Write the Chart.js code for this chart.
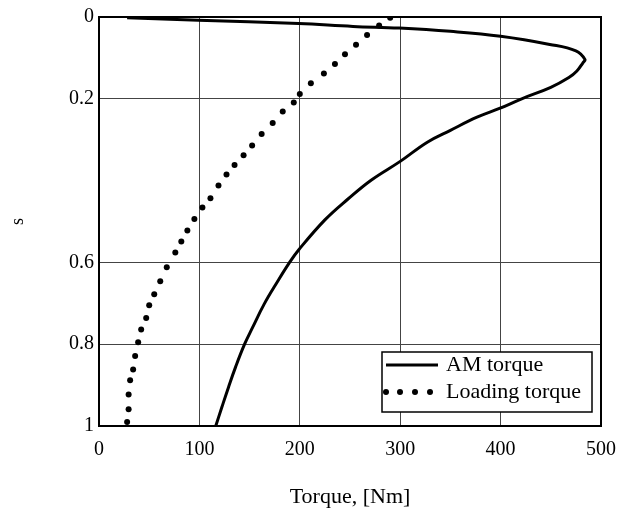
<!DOCTYPE html>
<html>
<head>
<meta charset="utf-8">
<script src="https://cdn.jsdelivr.net/npm/chart.js@4"></script>
<style>
    body { margin: 0; background: #fff; }
    #wrap { width: 628px; height: 510px; }
</style>
</head>
<body>
<div id="wrap"><canvas id="torque-chart" width="628" height="510"></canvas></div>
<script>
// AM torque curve (torque in Nm, slip s)
const amTorque = [28, 99, 199, 253, 299, 350, 400, 449, 475, 484, 482, 476, 468, 450, 421, 399.5, 376.5, 350, 327, 300, 271, 248, 225, 199, 189.5, 178, 164.5, 153, 145, 136, 129, 122.5, 116.3];
const amSlip   = [0.002, 0.008, 0.016, 0.023, 0.027, 0.035, 0.047, 0.067, 0.083, 0.104, 0.112, 0.132, 0.148, 0.172, 0.2, 0.223, 0.245, 0.277, 0.306, 0.353, 0.399, 0.445, 0.496, 0.569, 0.601, 0.646, 0.702, 0.759, 0.8, 0.856, 0.905, 0.953, 1.0];

// loading torque, one value per dot
const loadTorque = [290, 279, 267, 256, 245, 235, 224, 211, 200, 194, 183, 173, 162, 152.5, 144, 135, 127, 119, 111, 103, 95, 88, 82, 76, 67.5, 61, 55, 50, 47, 42, 39, 36, 34, 31, 29.5, 29.5, 28];
const loadSlip   = [0.002, 0.021, 0.044, 0.068, 0.091, 0.115, 0.138, 0.162, 0.188, 0.209, 0.231, 0.259, 0.286, 0.314, 0.338, 0.362, 0.385, 0.412, 0.443, 0.466, 0.494, 0.522, 0.549, 0.576, 0.612, 0.646, 0.678, 0.705, 0.736, 0.764, 0.795, 0.829, 0.862, 0.888, 0.923, 0.959, 0.99];

const xTicks = [0, 100, 200, 300, 400, 500];
const yTicks = [0, 0.2, 0.6, 0.8, 1];

const seriesLabels = ['AM torque', 'Loading torque'];

const serif = '"Liberation Serif", "DejaVu Serif", serif';

function toPoints(xs, ys) {
    return xs.map((x, i) => ({ x: x, y: ys[i] }));
}

// frame around the plot + legend box in the lower right corner
const framePlugin = {
    id: 'frame',
    afterDraw(chart) {
        const { ctx, chartArea: a } = chart;
        ctx.save();
        ctx.strokeStyle = '#000';
        ctx.lineWidth = 2;
        ctx.strokeRect(a.left, a.top, a.right - a.left, a.bottom - a.top);

        const bx = 382, by = 352, bw = 210, bh = 60;
        ctx.fillStyle = '#fff';
        ctx.fillRect(bx, by, bw, bh);
        ctx.lineWidth = 1.5;
        ctx.strokeRect(bx, by, bw, bh);

        ctx.beginPath();
        ctx.lineWidth = 3;
        ctx.moveTo(bx + 4, by + 13);
        ctx.lineTo(bx + 56, by + 13);
        ctx.stroke();

        ctx.fillStyle = '#000';
        [bx + 4, bx + 18, bx + 33, bx + 48].forEach(dx => {
            ctx.beginPath();
            ctx.arc(dx, by + 40, 3, 0, Math.PI * 2);
            ctx.fill();
        });

        ctx.font = '22px ' + serif;
        ctx.textBaseline = 'middle';
        ctx.textAlign = 'left';
        ctx.fillText(seriesLabels[0], bx + 64, by + 13);
        ctx.fillText(seriesLabels[1], bx + 64, by + 40);
        ctx.restore();
    }
};

const ctx = document.getElementById('torque-chart').getContext('2d');

new Chart(ctx, {
    type: 'scatter',
    data: {
        datasets: [
            {
                label: seriesLabels[0],
                data: toPoints(amTorque, amSlip),
                showLine: true,
                borderColor: '#000',
                borderWidth: 3,
                pointRadius: 0,
                tension: 0.4
            },
            {
                label: seriesLabels[1],
                data: toPoints(loadTorque, loadSlip),
                showLine: false,
                backgroundColor: '#000',
                borderColor: '#000',
                pointRadius: 3,
                borderWidth: 0
            }
        ]
    },
    options: {
        responsive: false,
        animation: false,
        layout: { padding: { left: 0, right: 23, top: 14, bottom: 0 } },
        plugins: {
            legend: { display: false },
            tooltip: { enabled: false }
        },
        scales: {
            x: {
                type: 'linear',
                min: 0,
                max: 500,
                afterBuildTicks: axis => { axis.ticks = xTicks.map(v => ({ value: v })); },
                afterFit: axis => { axis.height = 84; },
                grid: { color: '#444', lineWidth: 1, drawTicks: false },
                border: { color: '#000', width: 2 },
                ticks: {
                    color: '#000',
                    padding: 12,
                    font: { family: serif, size: 20 },
                    callback: v => String(v)
                },
                title: {
                    display: true,
                    text: 'Torque, [Nm]',
                    color: '#000',
                    font: { family: serif, size: 22 },
                    padding: 0
                }
            },
            y: {
                type: 'linear',
                reverse: true,
                min: 0,
                max: 1,
                afterBuildTicks: axis => { axis.ticks = yTicks.map(v => ({ value: v })); },
                afterFit: axis => { axis.width = 99; },
                grid: { color: '#444', lineWidth: 1, drawTicks: false },
                border: { color: '#000', width: 2 },
                ticks: {
                    color: '#000',
                    padding: 5,
                    font: { family: serif, size: 20 },
                    callback: v => String(v)
                },
                title: {
                    display: true,
                    text: 's',
                    color: '#000',
                    font: { family: serif, size: 18 },
                    padding: { top: 7, bottom: 0 }
                }
            }
        }
    },
    plugins: [framePlugin]
});
</script>
</body>
</html>
